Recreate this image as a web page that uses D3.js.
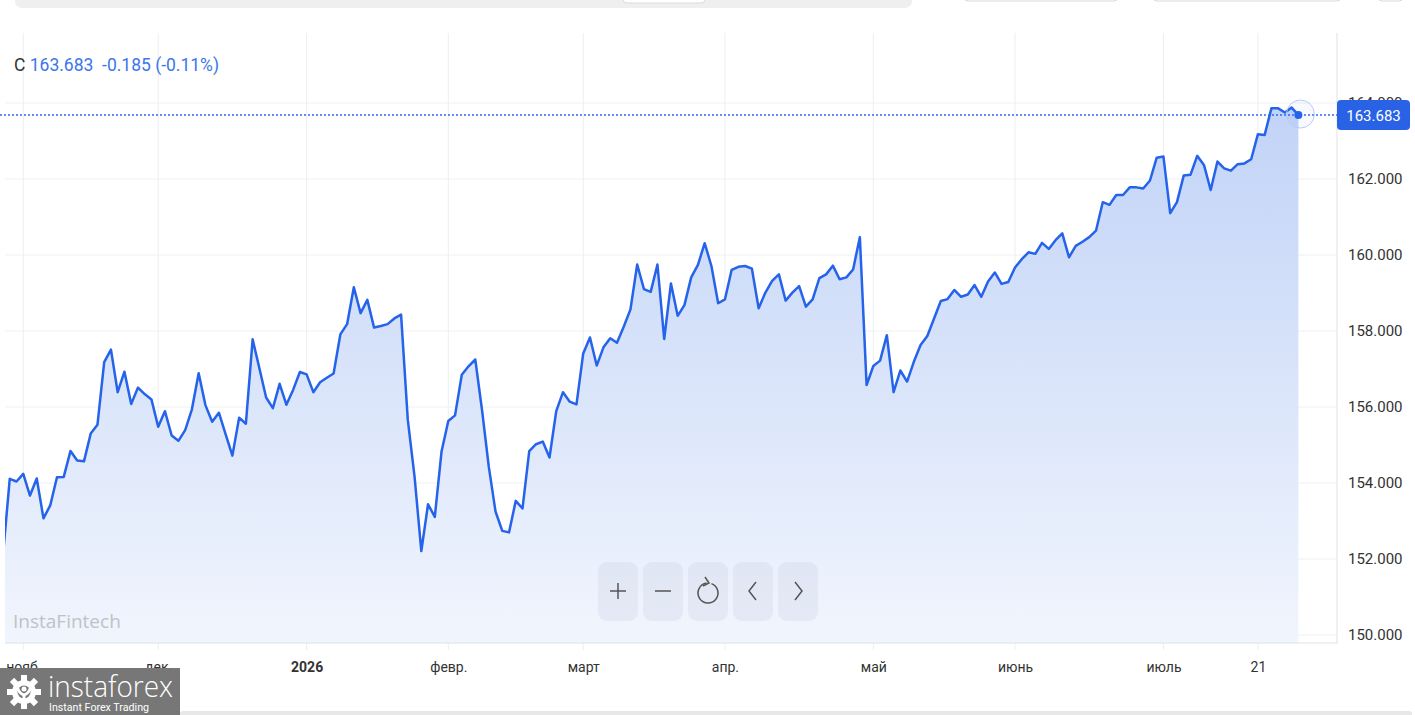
<!DOCTYPE html>
<html>
<head>
<meta charset="utf-8">
<script src="https://cdn.jsdelivr.net/npm/d3@7"></script>
<style>
  body { margin: 0; background: #fff; }
  svg { display: block; font-family: Roboto, "Noto Sans", sans-serif; }
</style>
</head>
<body>
<svg id="chart"></svg>
<script>
// closing prices, one per bar (index 0 is partly clipped at the left edge)
const closes = [
  152.10, 154.11, 154.04, 154.24, 153.67, 154.12, 153.07, 153.41, 154.15, 154.16,
  154.84, 154.59, 154.57, 155.30, 155.53, 157.18, 157.51, 156.39, 156.93, 156.08,
  156.51, 156.34, 156.20, 155.48, 155.89, 155.25, 155.11, 155.39, 155.94, 156.89,
  156.05, 155.61, 155.85, 155.28, 154.72, 155.72, 155.56, 157.78, 157.02, 156.25,
  155.97, 156.61, 156.06, 156.45, 156.92, 156.86, 156.39, 156.65, 156.77, 156.88,
  157.91, 158.18, 159.15, 158.47, 158.82, 158.09, 158.13, 158.18, 158.33, 158.43,
  155.66, 154.17, 152.21, 153.44, 153.11, 154.83, 155.63, 155.78, 156.85, 157.07,
  157.25, 155.92, 154.43, 153.25, 152.74, 152.70, 153.53, 153.33, 154.84, 155.02,
  155.09, 154.67, 155.89, 156.39, 156.14, 156.07, 157.41, 157.83, 157.09, 157.57,
  157.81, 157.69, 158.11, 158.57, 159.75, 159.10, 159.03, 159.75, 157.79, 159.25,
  158.40, 158.68, 159.41, 159.74, 160.31, 159.71, 158.73, 158.83, 159.61, 159.69,
  159.71, 159.64, 158.60, 159.01, 159.32, 159.49, 158.80, 159.01, 159.18, 158.64,
  158.83, 159.39, 159.49, 159.72, 159.36, 159.41, 159.62, 160.47, 156.58, 157.08,
  157.22, 157.89, 156.39, 156.96, 156.67, 157.19, 157.63, 157.87, 158.33, 158.79,
  158.84, 159.08, 158.90, 158.96, 159.21, 158.90, 159.30, 159.54, 159.24, 159.29,
  159.67, 159.89, 160.07, 160.03, 160.32, 160.16, 160.39, 160.57, 159.94, 160.24,
  160.35, 160.47, 160.64, 161.39, 161.32, 161.58, 161.58, 161.78, 161.78, 161.75,
  161.96, 162.56, 162.59, 161.10, 161.39, 162.09, 162.11, 162.61, 162.37, 161.71,
  162.46, 162.28, 162.22, 162.39, 162.41, 162.52, 163.18, 163.16, 163.86, 163.86,
  163.75, 163.88, 163.683
];

// bar index where each month label sits
const xTickIdx = [3, 23, 45, 66, 86, 107, 129, 150, 172, 186];
const xTickLabels = ["нояб.", "дек.", "2026", "февр.", "март", "апр.", "май", "июнь", "июль", "21"];
const yTicks = [150, 152, 154, 156, 158, 160, 162, 164];

const lastPrice = 163.683, change = -0.185, changePct = -0.11;

const W = 1415, H = 715;
const plot = {left: 5, right: 1337, top: 33, bottom: 643};

const svg = d3.select("#chart").attr("width", W).attr("height", H);

const x = d3.scaleLinear().domain([0, closes.length - 1]).range([3, 1298.4]);
const y = d3.scaleLinear().domain([150, 164]).range([635, 103]);

// gradient for the area
const defs = svg.append("defs");
const grad = defs.append("linearGradient")
  .attr("id", "fillGrad").attr("gradientUnits", "userSpaceOnUse")
  .attr("x1", 0).attr("x2", 0).attr("y1", 103).attr("y2", plot.bottom);
grad.append("stop").attr("offset", 0).attr("stop-color", "#c1d3f7");
grad.append("stop").attr("offset", 1).attr("stop-color", "#f1f5fd");

defs.append("clipPath").attr("id", "plotClip")
  .append("rect")
  .attr("x", plot.left).attr("y", plot.top)
  .attr("width", plot.right - plot.left).attr("height", plot.bottom - plot.top);

// top UI strip
svg.append("path")
  .attr("d", "M15,0 H912 V0 Q912,8 904,8 H23 Q15,8 15,0 Z")
  .attr("fill", "#efefef");
svg.append("rect").attr("x", 623).attr("y", -6).attr("width", 82).attr("height", 9).attr("rx", 4)
  .attr("fill", "#fff").attr("stroke", "#dcdcdc");
[[964, 154], [1153, 188], [1378, 25]].forEach(([bx, bw]) => {
  svg.append("rect").attr("x", bx).attr("y", -8).attr("width", bw).attr("height", 9).attr("rx", 4)
    .attr("fill", "#fff").attr("stroke", "#d8d8d8");
});

// grid
const grid = svg.append("g");
grid.selectAll("line.h").data(yTicks).enter().append("line")
  .attr("x1", plot.left).attr("x2", plot.right)
  .attr("y1", d => y(d)).attr("y2", d => y(d))
  .attr("stroke", "#eef0f3").attr("stroke-width", 1);
grid.selectAll("line.v").data(xTickIdx).enter().append("line")
  .attr("x1", d => x(d)).attr("x2", d => x(d))
  .attr("y1", plot.top).attr("y2", plot.bottom + 7)
  .attr("stroke", "#eceef2").attr("stroke-width", 1);

// area + line
const chartG = svg.append("g").attr("clip-path", "url(#plotClip)");
chartG.append("path")
  .datum(closes)
  .attr("fill", "url(#fillGrad)")
  .attr("d", d3.area()
    .x((d, i) => x(i))
    .y0(plot.bottom)
    .y1(d => y(d)));
chartG.append("path")
  .datum(closes)
  .attr("fill", "none")
  .attr("stroke", "#2563eb")
  .attr("stroke-width", 2.5)
  .attr("stroke-linejoin", "round")
  .attr("d", d3.line()
    .x((d, i) => x(i))
    .y(d => y(d)));

// plot borders
svg.append("line").attr("x1", plot.left).attr("x2", plot.right)
  .attr("y1", plot.bottom).attr("y2", plot.bottom)
  .attr("stroke", "#dde1e7");
svg.append("line").attr("x1", plot.right).attr("x2", plot.right)
  .attr("y1", plot.top).attr("y2", plot.bottom)
  .attr("stroke", "#dde1e7");

// y axis labels
const yAxis = svg.append("g")
  .attr("transform", "translate(" + (plot.right + 2) + ",0)")
  .call(d3.axisRight(y).tickValues(yTicks).tickFormat(d3.format(".3f")).tickSize(0).tickPadding(9));
yAxis.select(".domain").remove();
yAxis.selectAll("text").attr("font-size", 15).attr("fill", "#333").attr("font-family", "Roboto");

// x axis labels
const xAxis = svg.append("g")
  .attr("transform", "translate(0," + plot.bottom + ")")
  .call(d3.axisBottom(x).tickValues(xTickIdx).tickFormat((d, i) => xTickLabels[i]).tickSize(0).tickPadding(19));
xAxis.select(".domain").remove();
xAxis.selectAll("text")
  .attr("font-size", 14).attr("fill", "#333").attr("font-family", "Roboto")
  .attr("font-weight", (d, i) => xTickLabels[i] === "2026" ? "bold" : "normal");

// last price dotted line, marker and label
const lastIdx = closes.length - 1;
svg.append("line")
  .attr("x1", 0).attr("x2", plot.right)
  .attr("y1", y(lastPrice)).attr("y2", y(lastPrice))
  .attr("stroke", "#2f6bf0").attr("stroke-width", 1.5).attr("stroke-dasharray", "2,2");
svg.append("circle").attr("cx", x(lastIdx) + 2).attr("cy", y(lastPrice) - 1).attr("r", 14)
  .attr("fill", "rgba(41,98,255,0.04)").attr("stroke", "#b8cbf4").attr("stroke-width", 1);
svg.append("circle").attr("cx", x(lastIdx)).attr("cy", y(lastPrice)).attr("r", 4)
  .attr("fill", "#2563eb");

svg.append("rect").attr("x", plot.right).attr("y", y(lastPrice) - 15)
  .attr("width", 73).attr("height", 30).attr("rx", 4).attr("fill", "#2a62e6");
svg.append("text").attr("x", plot.right + 36.5).attr("y", y(lastPrice) + 6)
  .attr("text-anchor", "middle").attr("font-size", 15).attr("fill", "#fff")
  .text(lastPrice.toFixed(3));

// header
const header = svg.append("text").attr("x", 14).attr("y", 71).attr("font-size", 17.5)
  .attr("xml:space", "preserve");
header.append("tspan").attr("fill", "#333").text("C ");
header.append("tspan").attr("fill", "#3c76ea")
  .text(lastPrice.toFixed(3) + "  " + change.toFixed(3) + " (" + changePct.toFixed(2) + "%)");

// watermark
svg.append("text").attr("x", 13).attr("y", 628)
  .attr("font-family", "'Open Sans', sans-serif").attr("font-size", 19)
  .attr("fill", "#bec2c9").text("InstaFintech");

// zoom / pan controls
const ctrl = svg.append("g");
const btnX = [598, 643, 688, 733, 778];
ctrl.selectAll("rect").data(btnX).enter().append("rect")
  .attr("x", d => d).attr("y", 562).attr("width", 40).attr("height", 59).attr("rx", 9)
  .attr("fill", "rgba(30,50,90,0.05)");
const cy = 591, ic = "#555";
ctrl.append("path").attr("d", `M${btnX[0] + 12},${cy} h16 M${btnX[0] + 20},${cy - 8} v16`)
  .attr("stroke", ic).attr("stroke-width", 1.5).attr("fill", "none");
ctrl.append("path").attr("d", `M${btnX[1] + 12},${cy} h16`)
  .attr("stroke", ic).attr("stroke-width", 1.5).attr("fill", "none");
const rc = btnX[2] + 20;
ctrl.append("path")
  .attr("d", d3.arc()({innerRadius: 10, outerRadius: 10, startAngle: 0.35, endAngle: 2 * Math.PI - 0.15}))
  .attr("transform", `translate(${rc},${cy + 2})`)
  .attr("stroke", ic).attr("stroke-width", 1.5).attr("fill", "none");
ctrl.append("path").attr("d", `M${rc - 3},${cy - 14} L${rc + 1},${cy - 8} L${rc - 5},${cy - 5}`)
  .attr("stroke", ic).attr("stroke-width", 1.5).attr("fill", "none");
ctrl.append("path").attr("d", `M${btnX[3] + 23},${cy - 9} L${btnX[3] + 16},${cy} L${btnX[3] + 23},${cy + 9}`)
  .attr("stroke", ic).attr("stroke-width", 1.5).attr("fill", "none");
ctrl.append("path").attr("d", `M${btnX[4] + 17},${cy - 9} L${btnX[4] + 24},${cy} L${btnX[4] + 17},${cy + 9}`)
  .attr("stroke", ic).attr("stroke-width", 1.5).attr("fill", "none");

// bottom strip and logo
svg.append("rect").attr("x", 180).attr("y", 711).attr("width", 1232).attr("height", 6).attr("rx", 3)
  .attr("fill", "#e8e8e8");
const logo = svg.append("g");
logo.append("rect").attr("x", 0).attr("y", 668).attr("width", 180).attr("height", 47).attr("fill", "#777");
const gear = logo.append("g").attr("transform", "translate(24,692)");
d3.range(8).forEach(k => {
  gear.append("rect").attr("x", -3).attr("y", -17).attr("width", 6).attr("height", 7)
    .attr("fill", "#fff").attr("transform", `rotate(${k * 45})`);
});
gear.append("circle").attr("r", 12).attr("fill", "#fff");
gear.append("circle").attr("r", 6.5).attr("fill", "#777");
gear.append("path").attr("d", "M-7,-6 Q-5,2 0,3 Q5,2 7,-6 M0,3 V12")
  .attr("stroke", "#fff").attr("stroke-width", 3).attr("fill", "none");
gear.append("circle").attr("cx", 0).attr("cy", -3).attr("r", 2.5).attr("fill", "#fff");
logo.append("text").attr("x", 48).attr("y", 697)
  .attr("font-family", "'Open Sans', sans-serif").attr("font-size", 30).attr("font-weight", 300)
  .attr("fill", "#fff").attr("textLength", 125).attr("lengthAdjust", "spacingAndGlyphs")
  .text("instaforex");
logo.append("text").attr("x", 49).attr("y", 711)
  .attr("font-family", "Roboto, sans-serif").attr("font-size", 11.5)
  .attr("fill", "#fff").attr("textLength", 100).attr("lengthAdjust", "spacingAndGlyphs")
  .text("Instant Forex Trading");
</script>
</body>
</html>
